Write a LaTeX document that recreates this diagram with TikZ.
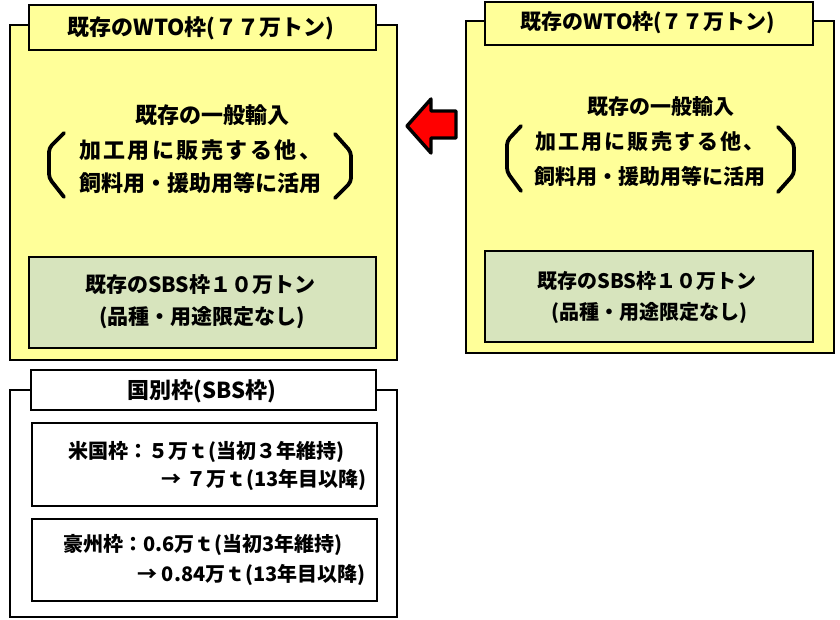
\documentclass[tikz,border=0pt]{standalone}
\usepackage{fontspec}
\setmainfont{Noto Sans CJK JP}
\definecolor{wtoyellow}{HTML}{FFFF99}
\definecolor{sbsgreen}{HTML}{D7E4BD}
\definecolor{arrowred}{HTML}{FF0000}
\newcommand\spreadline[1]{\makebox[#1][s]{加\hfill 工\hfill 用\hfill に\hfill 販\hfill 売\hfill す\hfill る\hfill 他\hfill 、}}
\begin{document}
\begin{tikzpicture}[x=1pt,y=-1pt,
  panel/.style={draw=black, rectangle, inner sep=0pt, outer sep=0pt, anchor=north west, line width=2.6pt, fill=wtoyellow},
  greenpanel/.style={panel, fill=sbsgreen},
  whitepanel/.style={panel, fill=white, line width=1.6pt},
  fsA/.style={inner sep=0pt, font=\bfseries\fontsize{22}{26}\selectfont},
  fsB/.style={inner sep=0pt, font=\bfseries\fontsize{21}{25}\selectfont},
  fsC/.style={inner sep=0pt, font=\bfseries\fontsize{20}{24}\selectfont},
  bracket/.style={draw=black, line width=3.8pt, line cap=round, line join=round, rounded corners=4pt},
  blockarrow/.style={draw=black, fill=arrowred, line width=3.4pt, line join=round}
]
\useasboundingbox (0,0) rectangle (840,620);
\fill[white] (0,0) rectangle (840,620);

% ---- left WTO panel
\node[panel, minimum width=387pt, minimum height=335pt] (lwto) at (10,25) {};
\node[panel, minimum width=347pt, minimum height=45pt] (ltab) at (29,5) {};
\node[fsA] (ltitle) at (201,28) {既存のWTO枠(７７万トン)};
\node[fsA] (lgen1) at (212,115) {既存の一般輸入};
\node[fsA] (lgen2) at (200,150) {\spreadline{242pt}};
\node[fsA] (lgen3) at (200,183) {飼料用・援助用等に活用};
\draw[bracket] (64,133) -- (49,148) -- (49,178) -- (64,197);
\draw[bracket] (335,134) -- (351,152) -- (351,182) -- (335,198);
\node[greenpanel, minimum width=347pt, minimum height=91pt] (lsbs) at (29,257) {};
\node[fsB] (lsbs1) at (200,285) {既存のSBS枠１０万トン};
\node[fsB] (lsbs2) at (202,318) {(品種・用途限定なし)};

% ---- right WTO panel
\node[panel, minimum width=368pt, minimum height=332pt] (rwto) at (466,21) {};
\node[panel, minimum width=328pt, minimum height=43pt] (rtab) at (485,2) {};
\node[fsB] (rtitle) at (648,23) {既存のWTO枠(７７万トン)};
\node[fsB] (rgen1) at (661,107) {既存の一般輸入};
\node[fsB] (rgen2) at (650,142) {\spreadline{230pt}};
\node[fsB] (rgen3) at (650,176) {飼料用・援助用等に活用};
\draw[bracket] (521,126) -- (507,141) -- (507,172) -- (521,191);
\draw[bracket] (778,127) -- (794,144) -- (794,174) -- (778,192);
\node[greenpanel, minimum width=328pt, minimum height=91pt] (rsbs) at (485,251) {};
\node[fsC] (rsbs1) at (647,281) {既存のSBS枠１０万トン};
\node[fsC] (rsbs2) at (649,313) {(品種・用途限定なし)};

% ---- block arrow (right panel -> left panel)
\draw[blockarrow] (407,126) -- (431,99) -- (431,111) -- (456,111) -- (456,138) -- (431,138) -- (431,153) -- cycle;

% ---- country-specific SBS panel
\node[whitepanel, minimum width=387pt, minimum height=227pt] (cty) at (10,390) {};
\node[whitepanel, minimum width=345pt, minimum height=40pt] (ctab) at (31,370) {};
\node[fsA] (ctitle) at (202,391) {国別枠(SBS枠)};
\node[whitepanel, minimum width=345pt, minimum height=83pt] (us) at (32,423) {};
\node[fsC, anchor=west] (us1) at (68,452) {米国枠：５万ｔ(当初３年維持)};
\node[fsC, anchor=east] (us2) at (367,480) {→ ７万ｔ(13年目以降)};
\node[whitepanel, minimum width=345pt, minimum height=82pt] (au) at (32,519) {};
\node[fsC, anchor=west] (au1) at (63,545) {豪州枠：0.6万ｔ(当初3年維持)};
\node[fsC, anchor=east] (au2) at (366,575) {→ 0.84万ｔ(13年目以降)};
\end{tikzpicture}
\end{document}
